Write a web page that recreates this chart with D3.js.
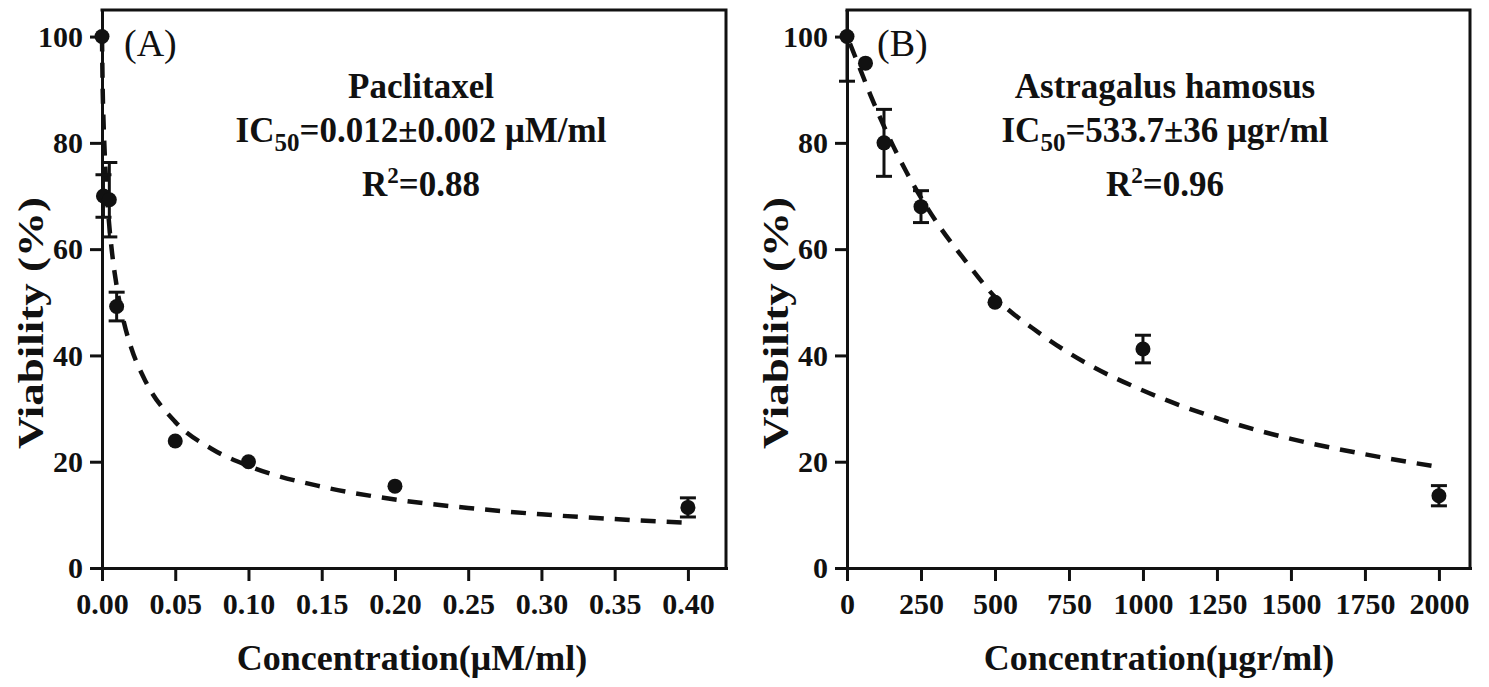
<!DOCTYPE html>
<html>
<head>
<meta charset="utf-8">
<script src="https://cdn.jsdelivr.net/npm/d3@7"></script>
<style>
  body { margin: 0; background: #fff; }
  text { font-family: 'Liberation Serif', 'Times New Roman', serif; fill: #111; }
</style>
</head>
<body>
<script>
// panel A - paclitaxel
const concA = [0, 0.001, 0.005, 0.01, 0.05, 0.1, 0.2, 0.4];
const viabA = [100, 70, 69.3, 49.2, 23.9, 20.0, 15.4, 11.4];
const errA  = [0, 4, 7, 2.7, 0, 0, 0, 1.8];
const fitAx = [0, 0.0005, 0.001, 0.002, 0.004, 0.007, 0.01, 0.015, 0.02, 0.03, 0.05, 0.075, 0.1, 0.15, 0.2, 0.25, 0.3, 0.35, 0.4];
const fitAy = [100, 89.6, 84.4, 77.1, 67.8, 59.0, 53.1, 46.2, 41.4, 35.0, 27.5, 22.4, 19.2, 15.3, 12.9, 11.3, 10.1, 9.2, 8.5];
const ticksA = [0, 0.05, 0.1, 0.15, 0.2, 0.25, 0.3, 0.35, 0.4];

// panel B - astragalus hamosus
const concB = [0, 62.5, 125, 250, 500, 1000, 2000];
const viabB = [100, 95, 80, 68, 50, 41.2, 13.6];
const errB  = [8.4, 0, 6.3, 3, 0, 2.6, 1.9];
const fitBx = [10, 40, 80, 125, 200, 300, 400, 500, 650, 800, 1000, 1250, 1500, 1750, 2000];
const fitBy = [98.7, 94.5, 88.9, 83.1, 74.6, 65.3, 57.8, 51.0, 44.2, 38.8, 33.4, 28.2, 24.3, 21.4, 19.0];
const ticksB = [0, 250, 500, 750, 1000, 1250, 1500, 1750, 2000];

const yTicks = [0, 20, 40, 60, 80, 100];

const W = 1489, H = 687;
const svg = d3.select('body').append('svg')
  .attr('width', W)
  .attr('height', H);

svg.append('rect').attr('width', W).attr('height', H).attr('fill', '#fff');

const panels = [
  {
    id: 'A', xs: concA, ys: viabA, err: errA, fx: fitAx, fy: fitAy,
    ticks: ticksA, fmt: d3.format('.2f'),
    domain: [0, 0.426], range: [102, 726],
    tag: '(A)', tagX: 124,
    name: 'Paclitaxel', ic: '=0.012\u00b10.002 \u03bcM/ml', r2: '=0.88', noteX: 421,
    xTitle: 'Concentration(\u03bcM/ml)', xTitleX: 412, yTitleX: 30
  },
  {
    id: 'B', xs: concB, ys: viabB, err: errB, fx: fitBx, fy: fitBy,
    ticks: ticksB, fmt: d3.format('d'),
    domain: [0, 2105], range: [847, 1470],
    tag: '(B)', tagX: 877,
    name: 'Astragalus hamosus', ic: '=533.7\u00b136 \u03bcgr/ml', r2: '=0.96', noteX: 1165,
    xTitle: 'Concentration(\u03bcgr/ml)', xTitleX: 1159, yTitleX: 775
  }
];

const y = d3.scaleLinear().domain([0, 105]).range([568, 10]);

panels.forEach(p => {
  const x = d3.scaleLinear().domain(p.domain).range(p.range);
  const g = svg.append('g');

  g.append('clipPath').attr('id', 'clip' + p.id)
    .append('rect')
    .attr('x', p.range[0] - 20).attr('y', y(105))
    .attr('width', p.range[1] - p.range[0] + 20)
    .attr('height', y(0) - y(105));

  // axes
  const xAxis = g.append('g')
    .attr('transform', `translate(0,${y(0)})`)
    .call(d3.axisBottom(x).tickValues(p.ticks).tickFormat(p.fmt)
      .tickSize(13).tickSizeOuter(0).tickPadding(12));
  const yAxis = g.append('g')
    .attr('transform', `translate(${x(0)},0)`)
    .call(d3.axisLeft(y).tickValues(yTicks).tickSize(12).tickSizeOuter(0).tickPadding(7));

  [xAxis, yAxis].forEach(a => {
    a.select('.domain').attr('stroke', '#111').attr('stroke-width', 3).attr('stroke-linecap', 'square');
    a.selectAll('.tick line').attr('stroke', '#111').attr('stroke-width', 3);
    a.selectAll('.tick text')
      .attr('font-family', "'Liberation Serif', serif")
      .attr('font-size', 30).attr('font-weight', 'bold').attr('fill', '#111');
  });

  // top and right frame
  g.append('path')
    .attr('d', `M${x(0)},${y(105)}H${x(p.domain[1])}V${y(0)}`)
    .attr('fill', 'none').attr('stroke', '#111').attr('stroke-width', 3)
    .attr('stroke-linecap', 'square');

  // fitted curve
  const fit = p.fx.map((d, i) => [d, p.fy[i]]);
  g.append('path')
    .datum(fit)
    .attr('d', d3.line().x(d => x(d[0])).y(d => y(d[1])).curve(d3.curveMonotoneX))
    .attr('fill', 'none').attr('stroke', '#111').attr('stroke-width', 4.5)
    .attr('stroke-dasharray', '15,11');

  const pts = p.xs.map((d, i) => ({c: d, v: p.ys[i], e: p.err[i]}));

  // error bars
  const eb = g.append('g').attr('clip-path', `url(#clip${p.id})`)
    .selectAll('g').data(pts.filter(d => d.e > 0)).enter().append('g')
    .attr('stroke', '#111').attr('stroke-width', 3);
  eb.append('line')
    .attr('x1', d => x(d.c)).attr('x2', d => x(d.c))
    .attr('y1', d => y(d.v + d.e)).attr('y2', d => y(d.v - d.e));
  eb.append('line')
    .attr('x1', d => x(d.c) - 8).attr('x2', d => x(d.c) + 8)
    .attr('y1', d => y(d.v + d.e)).attr('y2', d => y(d.v + d.e));
  eb.append('line')
    .attr('x1', d => x(d.c) - 8).attr('x2', d => x(d.c) + 8)
    .attr('y1', d => y(d.v - d.e)).attr('y2', d => y(d.v - d.e));

  // markers
  g.selectAll('circle.pt').data(pts).enter().append('circle')
    .attr('class', 'pt')
    .attr('cx', d => x(d.c)).attr('cy', d => y(d.v))
    .attr('r', 7.5).attr('fill', '#111');

  // panel tag
  g.append('text').attr('x', p.tagX).attr('y', 56)
    .attr('font-size', 38).text(p.tag);

  // annotation
  const note = g.append('g').attr('font-weight', 'bold').attr('font-size', 35)
    .attr('text-anchor', 'middle');
  note.append('text').attr('x', p.noteX).attr('y', 98).text(p.name);
  const ic = note.append('text').attr('x', p.noteX).attr('y', 142);
  ic.append('tspan').text('IC');
  ic.append('tspan').attr('dy', 9).attr('font-size', 25).text('50');
  ic.append('tspan').attr('dy', -9).text(p.ic);
  const r2 = note.append('text').attr('x', p.noteX).attr('y', 196);
  r2.append('tspan').text('R');
  r2.append('tspan').attr('dy', -13).attr('font-size', 23).text('2');
  r2.append('tspan').attr('dy', 13).text(p.r2);

  // axis titles
  g.append('text')
    .attr('x', p.xTitleX).attr('y', 670)
    .attr('text-anchor', 'middle').attr('font-weight', 'bold').attr('font-size', 36)
    .text(p.xTitle);
  g.append('text')
    .attr('transform', `translate(${p.yTitleX},323) rotate(-90)`)
    .attr('dy', '0.35em')
    .attr('text-anchor', 'middle').attr('font-weight', 'bold').attr('font-size', 36)
    .attr('textLength', 252).attr('lengthAdjust', 'spacingAndGlyphs')
    .text('Viability (%)');
});
</script>
</body>
</html>
